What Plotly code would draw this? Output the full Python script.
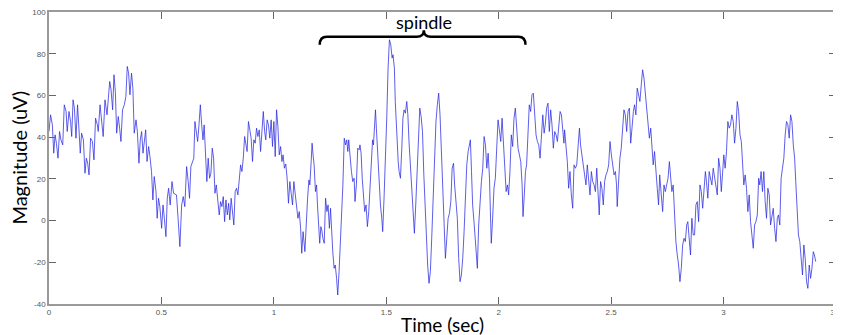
import plotly.graph_objects as go

# EEG trace, in segments (time in s, magnitude in uV)
seg1_t = [0.000,0.007,0.015,0.021,0.027,0.033,0.040,0.047,0.053,0.061, 0.068,0.076,0.081,0.089,0.096,0.101,0.107,0.113,0.120,0.127,
          0.133,0.139,0.145,0.153,0.160,0.166,0.172,0.178,0.185,0.193, 0.200,0.207,0.215,0.219,0.227,0.234,0.241,0.249,0.258,0.264,
          0.270,0.276,0.283,0.289,0.295,0.301,0.308,0.314,0.320,0.327, 0.335,0.342,0.348,0.354,0.360,0.367,0.373,0.379,0.387,0.393,
          0.400,0.406,0.412,0.418,0.424,0.430,0.436,0.443,0.449,0.456, 0.462,0.468,0.476,0.481,0.487,0.493,0.501,0.507,0.513,0.520,
          0.526,0.532,0.539,0.547,0.554]
seg1_v = [42.7,50.7,45.9,32.3,41.1,37.1,29.9,42.7,38.7,36.3, 55.5,52.3,42.7,52.3,47.5,40.3,57.9,53.9,39.5,55.5,
          44.3,32.3,41.9,38.7,22.7,29.9,27.5,21.9,39.5,37.9, 29.1,49.1,45.9,42.7,55.5,49.1,40.3,57.9,50.7,58.7,
          66.7,62.7,53.1,69.9,61.9,41.9,49.9,44.3,37.9,53.1, 55.5,59.5,73.9,70.7,60.3,70.7,63.5,41.9,48.3,42.7,
          27.5,38.7,42.7,32.3,39.5,43.5,28.3,35.5,30.7,23.5, 9.9,21.1,13.9,1.1,10.7,6.7,-3.7,7.5,1.1,-7.7,
          10.7,15.5,7.5,18.7,13.1]

seg2_t = [0.567,0.574,0.582,0.590,0.597,0.604,0.612,0.619,0.625,0.631, 0.637,0.644,0.649,0.655,0.661,0.667,0.673,0.679,0.685,0.690,
          0.696,0.702,0.708,0.714,0.720,0.726,0.732,0.738,0.744,0.750, 0.757,0.763,0.769,0.775,0.781,0.787,0.793,0.799,0.804,0.810,
          0.816,0.822,0.828,0.834,0.840,0.846,0.852,0.858,0.864,0.870, 0.876,0.881,0.887,0.893,0.899,0.905,0.911,0.917,0.923,0.929,
          0.935,0.941,0.947,0.953,0.959,0.964,0.970,0.976,0.982,0.988, 0.994,1.000,1.006,1.012,1.018,1.024,1.030,1.036,1.041,1.047,
          1.053,1.059,1.065,1.071,1.077,1.083,1.089,1.095,1.101,1.107, 1.113,1.119,1.124,1.130]
seg2_v = [12.3,1.1,-12.5,7.5,11.5,6.7,25.9,18.7,10.7,25.9, 27.5,29.9,47.5,41.1,37.9,45.9,55.5,45.9,38.7,45.9,
          33.1,18.7,29.9,20.3,22.7,34.7,29.9,13.1,17.1,9.1, 2.7,9.1,6.7,11.5,-0.5,9.9,2.7,8.3,0.3,10.7,
          2.7,-2.1,13.9,15.5,12.3,21.9,26.7,23.5,29.9,40.3, 34.7,33.1,47.5,42.7,39.5,28.3,38.7,37.1,44.3,40.3,
          43.5,33.1,45.9,52.3,42.7,38.7,48.3,45.9,39.5,48.3, 35.5,47.5,30.7,53.1,45.1,31.5,35.5,28.3,31.5,25.1,
          27.1,20.3,8.3,18.7,13.1,7.5,18.7,12.3,6.7,1.1, 4.3,-3.7,-15.7,-5.3]

seg3_t = [1.138,1.142,1.150,1.156,1.160,1.166,1.170,1.175,1.179,1.185, 1.190,1.194,1.200,1.204,1.209,1.213,1.218,1.224,1.230,1.236,
          1.241,1.247,1.252,1.256,1.262,1.268,1.273,1.279,1.284,1.290, 1.296,1.301,1.307,1.313,1.319,1.324,1.329,1.333,1.339,1.345,
          1.351,1.357,1.361,1.367,1.373,1.379,1.383,1.388,1.393,1.399, 1.404,1.410,1.416,1.422,1.428,1.434,1.439,1.443,1.447,1.452,
          1.456,1.462,1.468,1.474,1.480,1.484,1.490,1.496,1.502,1.508, 1.514,1.520,1.526,1.530,1.536,1.540,1.546,1.553,1.557,1.563,
          1.569,1.574,1.579,1.585,1.591,1.596,1.601,1.607,1.613,1.619, 1.625,1.631,1.637,1.643,1.649,1.655,1.661,1.667,1.673,1.679,
          1.684,1.690,1.696,1.702,1.708]
seg3_v = [-14.9,-5.3,10.7,19.5,17.1,28.3,37.1,30.7,26.7,13.9, 17.1,7.5,-2.1,-10.9,-2.9,-4.5,-8.5,-10.9,10.7,4.3,
          7.5,-3.7,5.9,-3.7,-14.9,-22.9,-21.3,-27.7,-35.7,-24.5, -10.1,4.3,17.1,39.5,36.3,38.7,33.1,38.7,28.3,23.5,
          18.7,20.3,9.1,17.1,34.7,33.9,36.3,32.3,20.3,9.9, 4.3,7.5,-2.9,4.3,17.9,33.1,38.7,36.3,45.9,53.1,
          44.3,31.5,17.1,7.5,1.1,-5.3,10.7,26.7,49.1,73.1, 86.7,84.3,77.9,79.5,73.1,57.1,41.1,28.3,23.5,20.3,
          34.7,49.1,53.1,51.5,57.1,50.7,37.9,26.7,12.3,1.1, -6.1,7.5,25.1,41.1,53.9,49.9,42.7,21.9,4.3,-10.1,
          -21.3,-30.1,-24.5,-8.5,9.1]

seg4_t = [1.716,1.721,1.727,1.733,1.739,1.745,1.751,1.757,1.763,1.769, 1.775,1.781,1.787,1.793,1.799,1.804,1.810,1.816,1.822,1.828,
          1.834,1.840,1.846,1.852,1.858,1.864,1.870,1.874,1.879,1.884, 1.890,1.896,1.902,1.905,1.911,1.917,1.923,1.929,1.935,1.941,
          1.947,1.953,1.959,1.963,1.967,1.973,1.979,1.985,1.991,1.997, 2.003,2.009,2.015,2.021,2.027,2.033,2.039,2.044,2.050,2.056,
          2.062,2.068,2.074,2.080,2.086,2.092,2.098,2.104,2.108,2.113, 2.119,2.124,2.130,2.136,2.142,2.148,2.154,2.160,2.166,2.172,
          2.178,2.184,2.190,2.196,2.202,2.207,2.213,2.219,2.225,2.231, 2.237,2.243,2.249,2.255,2.261,2.267,2.273,2.279,2.284,2.290]
seg4_v = [34.7,47.5,55.5,61.1,50.7,33.1,18.7,4.3,-18.1,-8.5, 1.1,3.5,9.1,25.1,27.5,17.1,10.7,1.1,-18.1,-29.3,
          -26.1,-18.1,-5.3,10.7,26.7,33.1,36.3,38.7,23.5,7.5, -0.5,-8.5,-14.9,-22.9,-2.1,12.3,18.7,25.1,40.3,36.3,
          25.1,32.3,20.3,4.3,-10.9,1.1,15.5,20.3,34.7,48.3, 43.5,37.9,49.1,37.9,21.9,13.9,17.1,12.3,23.5,41.1,
          35.5,49.1,53.9,45.9,34.7,31.5,28.3,17.1,1.9,10.7, 23.5,26.7,44.3,55.5,52.3,60.3,61.1,52.3,41.1,37.9,
          36.3,29.9,39.5,50.7,41.9,45.9,53.9,56.3,42.7,53.1, 45.9,34.7,42.7,41.1,37.9,44.3,52.3,50.7,42.7,37.1]

seg5_t = [2.293,2.299,2.305,2.311,2.317,2.323,2.329,2.335,2.341,2.347, 2.353,2.359,2.364,2.370,2.376,2.382,2.388,2.394,2.400,2.406,
          2.412,2.418,2.424,2.430,2.436,2.441,2.447,2.453,2.459,2.465, 2.471,2.477,2.483,2.489,2.495,2.501,2.507,2.513,2.519,2.524,
          2.527,2.533,2.539,2.545,2.551,2.557,2.563,2.569,2.575,2.581, 2.587,2.593,2.599,2.604,2.610,2.616,2.622,2.628,2.634,2.640,
          2.646,2.652,2.658,2.664,2.670,2.676,2.681,2.687,2.693,2.699, 2.705,2.711,2.716,2.723,2.729,2.735,2.741,2.747,2.753,2.759,
          2.764,2.770,2.776,2.782,2.788,2.794,2.800,2.806,2.812,2.818, 2.824,2.830,2.836,2.841,2.847,2.853,2.859,2.865]
seg5_v = [43.5,36.3,28.3,15.5,23.5,12.3,5.9,26.7,25.1,26.7, 36.3,44.3,36.3,29.9,26.7,21.9,17.1,26.7,17.1,12.3,
          23.5,18.7,17.1,13.9,25.1,17.1,2.7,18.7,15.5,7.5, 18.7,21.9,23.5,26.7,37.9,31.5,26.7,21.9,23.5,17.1,
          6.7,18.7,29.9,34.7,45.9,53.1,50.7,42.7,52.3,53.9, 37.1,47.5,52.3,55.5,50.7,63.5,60.3,57.1,65.1,72.3,
          68.3,60.3,53.9,45.9,39.5,44.3,36.3,26.7,33.1,21.9, 15.5,7.5,21.9,12.3,4.3,17.1,13.9,17.1,20.3,28.3,
          21.9,13.9,17.1,1.1,-10.1,-16.5,-21.3,-29.3,-22.9,-11.7, -8.5,-10.1,-2.1,-0.5,-8.5,-16.5,1.1,-6.9]

seg6_t = [2.871,2.877,2.883,2.889,2.895,2.901,2.907,2.913,2.919,2.924, 2.930,2.936,2.942,2.948,2.954,2.960,2.966,2.972,2.978,2.984,
          2.990,2.996,3.001,3.007,3.013,3.019,3.025,3.031,3.037,3.043, 3.049,3.055,3.061,3.067,3.073,3.079,3.084,3.090,3.096,3.102,
          3.108,3.114,3.120,3.126,3.132,3.138,3.144,3.150,3.156,3.161, 3.167,3.173,3.179,3.185,3.191,3.197,3.203,3.209,3.215,3.221,
          3.227,3.233,3.239,3.244,3.250,3.256,3.262,3.268,3.274,3.280, 3.286,3.292,3.298,3.304,3.310,3.316,3.321,3.327,3.333,3.339,
          3.345,3.351,3.357,3.363,3.369,3.375,3.381,3.387,3.393,3.399, 3.404,3.410]
seg6_v = [-6.9,7.5,9.1,-0.5,17.1,13.9,5.9,13.9,23.5,18.7, 10.7,23.5,20.3,17.1,25.1,20.3,15.5,12.3,29.9,25.1,
          13.9,25.1,31.5,25.1,33.1,47.5,44.3,45.9,50.7,47.5, 37.1,44.3,57.1,52.3,41.1,37.9,26.7,17.1,21.9,15.5,
          4.3,12.3,-0.5,-6.9,-13.3,-2.1,-0.5,2.7,20.3,17.1, 23.5,13.9,23.5,9.1,1.1,15.5,12.3,-2.1,1.1,5.9,
          -3.7,-10.1,1.1,2.7,-2.1,20.3,25.1,29.9,41.1,47.5, 45.9,39.5,50.7,47.5,36.3,29.9,18.7,4.3,-6.9,-10.1,
          -18.1,-26.1,-11.7,-18.1,-29.3,-32.5,-21.3,-27.7,-22.9,-14.9, -16.5,-19.7]

x_ticks = [0, 0.5, 1, 1.5, 2, 2.5, 3, 3.5]
x_tick_labels = ["0", "0.5", "1", "1.5", "2", "2.5", "3", "3.5"]
y_ticks = [-40, -20, 0, 20, 40, 60, 80, 100]
y_tick_labels = ["-40", "-20", "0", "20", "40", "60", "80", "100"]

segs = [(seg1_t, seg1_v), (seg2_t, seg2_v), (seg3_t, seg3_v),
        (seg4_t, seg4_v), (seg5_t, seg5_v), (seg6_t, seg6_v)]
time, mag = [], []
for t, v in segs:
    n = min(len(t), len(v))
    time += t[:n]
    mag += v[:n]

fig = go.Figure()
fig.add_trace(go.Scatter(x=time, y=mag, mode="lines",
                         line=dict(color="rgb(40,40,225)", width=0.75), showlegend=False))

axis_common = dict(showline=True, linecolor="#9a9a9a", linewidth=1.5, mirror="ticks",
                   ticks="inside", ticklen=7, tickwidth=1, tickcolor="#666666",
                   showgrid=False, zeroline=False, ticklabeloverflow="allow",
                   tickfont=dict(family="Liberation Sans", size=8, color="#555555"))
fig.update_xaxes(range=[0, 3.5], tickvals=x_ticks, ticktext=x_tick_labels, **axis_common)
fig.update_yaxes(range=[-40, 100], tickvals=y_ticks, ticktext=y_tick_labels, **axis_common)

# curly brace marking the spindle
fig.add_shape(type="path", xref="x", yref="y",
              path="M 1.204,84.3 Q 1.204,88.1 1.235,88.1 L 1.635,88.1 Q 1.667,88.1 1.667,91.2 "
                   "Q 1.667,88.1 1.699,88.1 L 2.088,88.1 Q 2.119,88.1 2.119,84.3",
              line=dict(color="black", width=2.5))
fig.add_annotation(x=1.667, y=95.0, xref="x", yref="y", text="spindle", showarrow=False,
                   font=dict(family="Lato", size=18, color="black"), xanchor="center", yanchor="middle")

fig.add_annotation(x=0.5, y=-0.069, xref="paper", yref="paper", text="Time (sec)", showarrow=False,
                   font=dict(family="Lato", size=19, color="black"), xanchor="center", yanchor="middle")
fig.add_annotation(x=-0.0375, y=0.503, xref="paper", yref="paper", text="Magnitude (uV)", showarrow=False,
                   textangle=-90, font=dict(family="Lato", size=20, color="black"),
                   xanchor="center", yanchor="middle")

# the page body has an 8px margin, so the figure is sized to end at the window edge
fig.update_layout(width=833, height=327, template="none",
                  margin=dict(l=41, r=5, t=4, b=31),
                  paper_bgcolor="white", plot_bgcolor="white")
fig.write_html("out.html")
